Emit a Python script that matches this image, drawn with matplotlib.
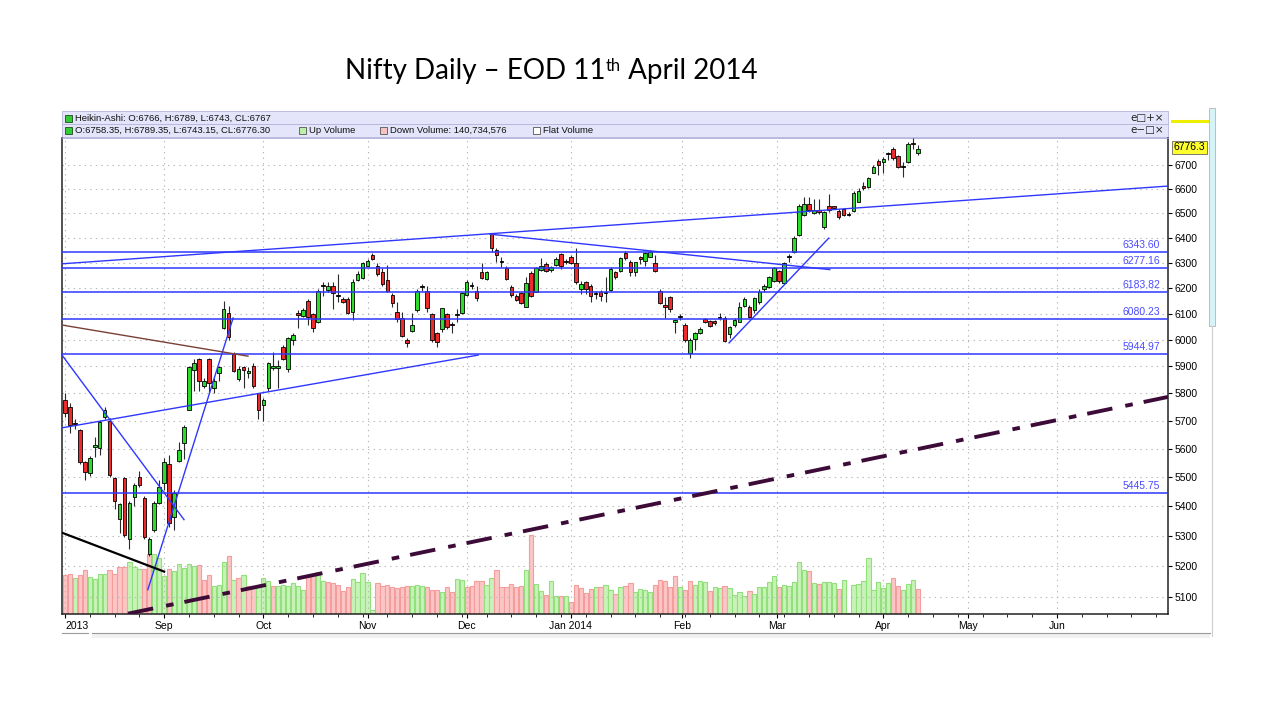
import matplotlib
matplotlib.use("Agg")
import matplotlib.pyplot as plt
from matplotlib.patches import Rectangle
from matplotlib.ticker import FixedLocator, NullLocator, FuncFormatter

plt.rcParams['font.family'] = ['Liberation Sans', 'DejaVu Sans']
plt.rcParams['lines.scale_dashes'] = False

# Heikin-Ashi daily candles, 1 Aug 2013 .. 11 Apr 2014
ha_open = [
    5775, 5750, 5692, 5668, 5553, 5517, 5605, 5604, 5714, 5700,
    5497, 5356, 5497, 5290, 5433, 5500, 5430, 5241, 5320, 5413,
    5480, 5547, 5363, 5556, 5622, 5740, 5885, 5928, 5828, 5928,
    5821, 5874, 6046, 6104, 5948, 5853, 5896, 5876, 5900, 5800,
    5757, 5818, 5893, 5893, 5973, 5889, 6000, 6104, 6092, 6149,
    6100, 6069, 6210, 6192, 6208, 6171, 6157, 6157, 6108, 6232,
    6240, 6288, 6332, 6285, 6262, 6232, 6173, 6108, 6084, 6000,
    6035, 6112, 6206, 6188, 6100, 6027, 6039, 6100, 6060, 6098,
    6104, 6173, 6210, 6188, 6262, 6236, 6416, 6351, 6306, 6277,
    6204, 6169, 6180, 6127, 6258, 6184, 6270, 6296, 6270, 6292,
    6336, 6306, 6324, 6300, 6196, 6224, 6208, 6179, 6184, 6182,
    6192, 6262, 6266, 6340, 6304, 6262, 6322, 6308, 6324, 6300,
    6188, 6135, 6165, 6066, 6090, 6058, 5950, 6004, 6027, 6080,
    6073, 6073, 6086, 6084, 6023, 6058, 6069, 6131, 6127, 6112,
    6145, 6196, 6204, 6228, 6266, 6220, 6326, 6343, 6412, 6492,
    6539, 6500, 6511, 6445, 6530, 6528, 6510, 6518, 6498, 6508,
    6547, 6614, 6610, 6668, 6717, 6713, 6752, 6770, 6738, 6695,
    6713, 6796, 6752,
]
ha_high = [
    5803, 5764, 5705, 5672, 5556, 5575, 5642, 5702, 5750, 5712,
    5500, 5413, 5502, 5417, 5480, 5523, 5435, 5297, 5420, 5490,
    5568, 5580, 5456, 5624, 5686, 5900, 5928, 5932, 5857, 5932,
    5857, 5900, 6150, 6130, 5952, 5900, 5900, 5896, 5911, 5803,
    5782, 5915, 5952, 5922, 5980, 6012, 6027, 6112, 6123, 6157,
    6104, 6196, 6224, 6224, 6224, 6255, 6165, 6165, 6236, 6266,
    6304, 6316, 6340, 6300, 6277, 6292, 6180, 6145, 6108, 6008,
    6104, 6196, 6216, 6208, 6104, 6031, 6123, 6104, 6069, 6116,
    6184, 6232, 6224, 6208, 6300, 6266, 6420, 6359, 6324, 6285,
    6212, 6177, 6184, 6243, 6266, 6281, 6320, 6304, 6285, 6324,
    6340, 6316, 6332, 6359, 6228, 6228, 6216, 6188, 6192, 6243,
    6281, 6266, 6324, 6347, 6312, 6304, 6328, 6343, 6351, 6332,
    6196, 6165, 6169, 6080, 6100, 6062, 6008, 6031, 6050, 6084,
    6077, 6077, 6104, 6092, 6054, 6084, 6145, 6165, 6135, 6165,
    6196, 6216, 6247, 6281, 6270, 6304, 6336, 6408, 6539, 6568,
    6568, 6560, 6560, 6510, 6577, 6530, 6518, 6522, 6505, 6593,
    6602, 6627, 6652, 6700, 6725, 6733, 6758, 6776, 6742, 6713,
    6797, 6814, 6785,
]
ha_low = [
    5714, 5657, 5672, 5548, 5490, 5505, 5570, 5580, 5705, 5500,
    5390, 5310, 5297, 5257, 5400, 5466, 5290, 5235, 5313, 5407,
    5456, 5330, 5320, 5553, 5565, 5738, 5810, 5810, 5821, 5800,
    5800, 5846, 6039, 6000, 5878, 5846, 5821, 5857, 5821, 5705,
    5700, 5810, 5885, 5821, 5922, 5878, 5980, 6046, 6088, 6058,
    6031, 6065, 6169, 6184, 6116, 6145, 6141, 6100, 6077, 6228,
    6236, 6285, 6312, 6247, 6208, 6184, 6127, 6069, 6012, 5973,
    6031, 6108, 6188, 6108, 5993, 5973, 6031, 6039, 6027, 6069,
    6100, 6169, 6196, 6149, 6236, 6232, 6343, 6304, 6281, 6232,
    6165, 6149, 6137, 6125, 6165, 6184, 6266, 6262, 6262, 6288,
    6274, 6296, 6296, 6216, 6177, 6177, 6145, 6157, 6149, 6145,
    6188, 6236, 6262, 6312, 6247, 6247, 6296, 6285, 6322, 6262,
    6137, 6084, 6108, 6027, 6077, 5993, 5932, 5963, 6023, 6062,
    6050, 6058, 6077, 5990, 6008, 6050, 6066, 6127, 6084, 6104,
    6137, 6184, 6200, 6224, 6220, 6220, 6304, 6340, 6408, 6487,
    6505, 6496, 6496, 6433, 6505, 6518, 6475, 6487, 6487, 6505,
    6545, 6597, 6605, 6665, 6660, 6668, 6720, 6720, 6690, 6650,
    6710, 6770, 6743,
]
ha_close = [
    5729, 5686, 5688, 5553, 5520, 5568, 5615, 5697, 5740, 5507,
    5417, 5407, 5303, 5413, 5473, 5473, 5297, 5290, 5413, 5466,
    5553, 5343, 5446, 5597, 5679, 5896, 5911, 5846, 5846, 5839,
    5846, 5896, 6116, 6012, 5881, 5889, 5885, 5884, 5828, 5740,
    5775, 5911, 5900, 5900, 5928, 6008, 6019, 6096, 6112, 6088,
    6046, 6188, 6206, 6208, 6180, 6167, 6145, 6104, 6224, 6255,
    6300, 6308, 6316, 6255, 6216, 6188, 6141, 6080, 6016, 5989,
    6058, 6188, 6202, 6123, 6000, 5993, 6120, 6050, 6056, 6094,
    6180, 6224, 6206, 6161, 6240, 6262, 6359, 6332, 6302, 6236,
    6173, 6153, 6141, 6220, 6169, 6277, 6285, 6266, 6281, 6316,
    6288, 6302, 6300, 6224, 6216, 6196, 6169, 6175, 6169, 6178,
    6274, 6243, 6320, 6320, 6262, 6304, 6316, 6340, 6343, 6266,
    6141, 6127, 6116, 6077, 6086, 6000, 6000, 6027, 6042, 6066,
    6054, 6062, 6082, 5996, 6050, 6077, 6127, 6157, 6088, 6161,
    6184, 6208, 6243, 6277, 6228, 6300, 6322, 6400, 6530, 6539,
    6514, 6514, 6505, 6505, 6514, 6522, 6483, 6492, 6494, 6585,
    6593, 6605, 6644, 6693, 6700, 6725, 6748, 6730, 6693, 6691,
    6792, 6790, 6768,
]

# daily volume, millions of shares, and up (g) / down (r) day
volume_m = [
    218, 224, 202, 218, 246, 205, 196, 224, 224, 248,
    224, 265, 261, 289, 261, 252, 252, 336, 336, 312,
    215, 252, 243, 280, 256, 280, 271, 274, 192, 218,
    159, 162, 293, 323, 192, 200, 218, 159, 159, 159,
    200, 187, 159, 159, 165, 159, 174, 159, 136, 215,
    224, 233, 187, 181, 174, 162, 131, 149, 196, 181,
    230, 177, 24, 174, 159, 162, 149, 144, 149, 155,
    155, 162, 155, 153, 136, 134, 125, 149, 125, 196,
    192, 149, 159, 187, 187, 162,
    202, 246, 153, 153, 168, 149, 159, 246, 442, 168,
    131, 106, 187, 99, 103, 103, 69, 162, 144, 118,
    140, 149, 153, 162, 136, 112, 149, 159, 172, 121,
    140, 136, 121, 162, 192, 187, 149, 211, 149, 136,
    187, 164, 187, 181, 131, 153, 144, 159, 144, 108,
    125, 99, 131, 112, 149, 149, 181, 211, 149, 164,
    159, 181, 289, 246, 243, 174, 168, 181, 181, 174,
    140, 192, 6, 162, 168, 187, 314, 136, 181, 147,
    174, 202, 155, 136, 168, 192, 140,
]
vol_side = list(
    "rrgrrggggr" "rrrgggrrgg" "grgggggrrr" "ggg" "rgrgrrg"
    "ggrggggggr" "rggrrrrrgg" "gggrrrrrrr" "gggrrrgrrg" "grrrrg"
    "grrrrrrgrg" "grggrgrrrr" "rgrggrgrrg" "gggrrrrrgr" "rgggrggrgg"
    "ggrgggggrg" "ggggrgrggg" "rggggggggg" "grrgggr"
)

month_pos = [0, 20, 40, 61, 81, 102, 124.4, 143.5, 165, 182, 200]
month_labels = ["2013", "Sep", "Oct", "Nov", "Dec", "Jan 2014",
                "Feb", "Mar", "Apr", "May", "Jun"]
price_ticks = list(range(5100, 6701, 100))
levels = [6343.60, 6277.16, 6183.82, 6080.23, 5944.97, 5445.75]

# hand-drawn trend lines: (day index, price) end points
trend_x0 = [-0.6, 85.7, -0.6, 16.7, -0.6, -0.6, -0.6, 12.7, 133.9]
trend_p0 = [6295, 6414, 5675, 5123, 5942, 6056, 5311, 5046, 5988]
trend_x1 = [222.4, 154.2, 83.3, 33.9, 24.0, 36.9, 20.0, 222.4, 154.0]
trend_p1 = [6612, 6272, 5942, 6083, 5355, 5938, 5182, 5787, 6398]

last_price = 6776.3

BLUE = '#2f37ff'
trend_styles = [
    dict(color=BLUE, lw=1.0),
    dict(color=BLUE, lw=1.0),
    dict(color=BLUE, lw=1.0),
    dict(color=BLUE, lw=1.0),
    dict(color=BLUE, lw=1.0),
    dict(color='#7b4034', lw=1.0),
    dict(color='black', lw=1.6),
    dict(color='#3d0b38', lw=2.8, dashes=(18.5, 9.5, 5.5, 8.0), solid_capstyle='butt',
         dash_capstyle='butt'),
    dict(color=BLUE, lw=1.0),
]

W, H = 1280, 720
fig = plt.figure(figsize=(12.8, 7.2), dpi=100)
rect = [62 / W, 1 - 614 / H, (1168 - 62) / W, (614 - 138) / H]
ax_v = fig.add_axes(rect)
ax = fig.add_axes(rect)
ax.set_zorder(ax_v.get_zorder() + 1)
ax.patch.set_visible(False)

n = len(ha_open)
days = list(range(n))
xlim = (-0.6, 222.4)

# volume pane (own scale, drawn underneath)
vfill = {'g': '#c8f3b8', 'r': '#fdc6c6'}
vedge = {'g': '#92e07c', 'r': '#f59d9d'}
ax_v.bar(days, volume_m, width=0.86, color=[vfill[s] for s in vol_side],
         edgecolor=[vedge[s] for s in vol_side], linewidth=0.8)
ax_v.set_xlim(*xlim)
ax_v.set_ylim(0, 2666)
ax_v.axis('off')

# candles
body_col = []
for o, c in zip(ha_open, ha_close):
    if abs(c - o) < 5:
        body_col.append('black')
    elif c > o:
        body_col.append('#2bdc2b')
    else:
        body_col.append('#ee2b2b')
ax.vlines(days, ha_low, ha_high, color='#2a2a2a', lw=0.8, zorder=3)
ax.bar(days, [max(abs(c - o), 1.5) for o, c in zip(ha_open, ha_close)],
       bottom=[min(o, c) for o, c in zip(ha_open, ha_close)], width=0.72,
       color=body_col, edgecolor='black', linewidth=0.6, zorder=4)

# horizontal levels
for lv in levels:
    ax.axhline(lv, color=BLUE, lw=1.1, zorder=5)
    ax.annotate(f"{lv:.2f}", xy=(220.8, lv), xytext=(0, 1.5), textcoords='offset points',
                ha='right', va='bottom', color='#4b4bff', fontsize=7.5, zorder=6)

for x0, p0, x1, p1, st in zip(trend_x0, trend_p0, trend_x1, trend_p1, trend_styles):
    ax.plot([x0, x1], [p0, p1], zorder=5, **st)

ax.set_yscale('log')
ax.set_xlim(*xlim)
ax.set_ylim(5045, 6816)
ax.yaxis.set_major_locator(FixedLocator(price_ticks))
ax.yaxis.set_minor_locator(NullLocator())
ax.yaxis.set_major_formatter(FuncFormatter(lambda v, p: f"{v:.0f}"))
ax.yaxis.tick_right()
ax.set_xticks(month_pos)
ax.set_xticklabels(month_labels)
ax.set_xticks(range(0, 223, 5), minor=True)
ax.get_xticklabels()[0].set_ha('left')
ax.tick_params(axis='y', labelsize=7.5, length=3, pad=2, width=0.8)
ax.tick_params(axis='x', which='major', labelsize=7.5, length=3, pad=2, width=0.8)
ax.tick_params(axis='x', which='minor', length=2, width=0.6)
ax.grid(True, which='major', color='#b9b9b9', linestyle=(0, (1, 3)), lw=0.8)
ax.set_axisbelow(True)
for side in ('left', 'bottom', 'right'):
    ax.spines[side].set_color('#222')
    ax.spines[side].set_linewidth(1.1)
ax.spines['top'].set_color('#a8a8d8')
ax.spines['top'].set_linewidth(0.6)

ax.annotate(f"{last_price:.1f}", xy=(1.0, last_price), xycoords=('axes fraction', 'data'),
            xytext=(4, 0), textcoords='offset points', ha='left', va='center', fontsize=7.5,
            bbox=dict(boxstyle='square,pad=0.15', fc='#ffff30', ec='#666', lw=0.6),
            annotation_clip=False)

# decorations in figure pixel space
ov = fig.add_axes([0, 0, 1, 1])
ov.set_xlim(0, W)
ov.set_ylim(H, 0)
ov.axis('off')

for top in (111, 124):
    ov.add_patch(Rectangle((62, top), 1106, 13, fc='#e4e4fa', ec='#b4b4dc', lw=0.6))
hdr = dict(fontsize=6.8, va='center', color='#111')
ov.add_patch(Rectangle((65, 114.5), 7, 7, fc='#33cc33', ec='#1d4d1d', lw=0.6))
ov.text(75, 118, "Heikin-Ashi: O:6766, H:6789, L:6743, CL:6767", **hdr)
ov.add_patch(Rectangle((65, 127), 7, 7, fc='#33cc33', ec='#1d4d1d', lw=0.6))
ov.text(75, 130.5, "O:6758.35, H:6789.35, L:6743.15, CL:6776.30", **hdr)
ov.add_patch(Rectangle((299, 127), 7, 7, fc='#bdeeaa', ec='#555', lw=0.6))
ov.text(309, 130.5, "Up Volume", **hdr)
ov.add_patch(Rectangle((380, 127), 7, 7, fc='#f8c2c2', ec='#555', lw=0.6))
ov.text(390, 130.5, "Down Volume: 140,734,576", **hdr)
ov.add_patch(Rectangle((533, 127), 7, 7, fc='white', ec='#555', lw=0.6))
ov.text(543, 130.5, "Flat Volume", **hdr)
ov.text(1164, 117.5, "e\u25a1+\u00d7", ha='right', va='center', fontsize=7.5,
        family='DejaVu Sans', color='#222')
ov.text(1164, 130, "e\u2212\u25a1\u00d7", ha='right', va='center', fontsize=7.5,
        family='DejaVu Sans', color='#222')

ov.plot([1172, 1207], [121, 121], color='#eeee00', lw=2.2)
ov.add_patch(Rectangle((1209, 108), 6, 218, fc='#d6f3f8', ec='#b5b5b5', lw=0.6))
ov.plot([1212, 1212], [326, 636], color='#cfcfcf', lw=0.8)
ov.add_patch(Rectangle((92, 633), 1118, 5, fc='#f1f1f1', ec='none'))
ov.plot([92, 1210], [633, 633], color='#9a9a9a', lw=0.8)
ov.plot([62, 88], [633, 633], color='#9a9a9a', lw=0.8)

# title with superscript
tfont = dict(family=['Lato', 'DejaVu Sans'], fontsize=20, color='black')
t1 = ov.text(345, 79, "Nifty Daily \u2013 EOD 11", va='baseline', ha='left', **tfont)
t2 = ov.annotate("th", xy=(1, 1), xycoords=t1, xytext=(0.5, 0), textcoords='offset points',
                 ha='left', va='top', family=['Lato', 'DejaVu Sans'], fontsize=12)
ov.annotate(" April 2014", xy=(1, 0), xycoords=(t2, t1), ha='left', va='bottom', **tfont)

fig.savefig("out.png", dpi=100)
